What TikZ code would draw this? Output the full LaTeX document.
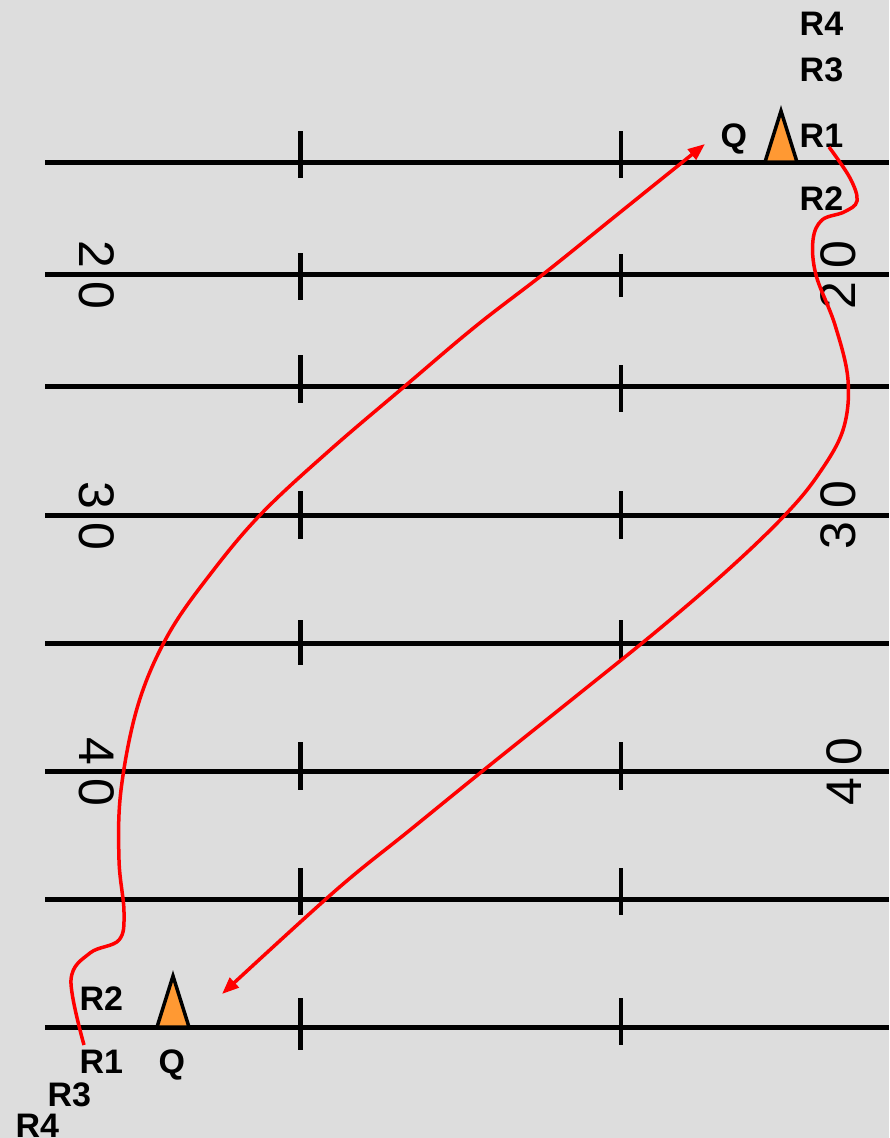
\documentclass[tikz,border=0pt]{standalone}
\usepackage{fontspec}
\setmainfont{Liberation Sans}
\usetikzlibrary{arrows.meta}
\definecolor{bg}{RGB}{221,221,221}
\definecolor{playerfill}{RGB}{255,153,51}
\definecolor{routered}{RGB}{255,0,0}
\newcommand\lblsize{\fontsize{34}{34}\selectfont\bfseries}
\newcommand\numsize{\fontsize{50}{50}\selectfont}
\tikzset{
  yardline/.style={line width=5pt},
  hashmark/.style={line width=4.5pt},
  lbl/.style={font=\lblsize, inner sep=0pt, anchor=base west},
  numl/.style={font=\numsize, inner sep=0pt, rotate=-90},
  numr/.style={font=\numsize, inner sep=0pt, rotate=90},
  player/.style={draw=black, fill=playerfill, line width=3.5pt, line join=miter},
  route/.style={draw=routered, line width=3.5pt},
  routearrow/.style={route, -{Triangle[length=17pt,width=13pt]}}
}
\begin{document}
\begin{tikzpicture}[x=1pt,y=-1pt]
\useasboundingbox (0,0) rectangle (889,1138);
\fill[bg] (0,0) rectangle (889,1138);
% yard lines
\foreach \yy in {162,274.7,386.7,515,643,771,899,1027}{
  \draw[yardline] (45,\yy) -- (889,\yy);
}
% hash marks
\foreach \yy/\ta/\tb/\ua/\ub in {162/131/178/131/178, 274.7/253/300/254/297, 386.7/355/403/365/412, 515/491/539/491/539, 643/620/665/620/660, 771/742/790/742/790, 899/868/915/868/915, 1027/998/1050/998/1045}{
  \draw[hashmark] (300.7,\ta) -- (300.7,\tb);
  \draw[hashmark] (621,\ua) -- (621,\ub);
}
% numbers left
\node[numl] (l2a) at (97,254.5) {2};
\node[numl] (l2b) at (97,295.5) {0};
\node[numl] (l3a) at (97,495) {3};
\node[numl] (l3b) at (97,536) {0};
\node[numl] (l4a) at (97,751) {4};
\node[numl] (l4b) at (97,792) {0};
% numbers right
\node[numr] (r2a) at (838,255) {0};
\node[numr] (r2b) at (838,296) {2};
\node[numr] (r3a) at (838,495) {0};
\node[numr] (r3b) at (838,536) {3};
\node[numr] (r4a) at (844,752) {0};
\node[numr] (r4b) at (844,792) {4};
% players
\draw[player] (765,162) -- (781,111) -- (797,162) -- cycle;
\draw[player] (157,1027) -- (173,976) -- (189,1027) -- cycle;
% labels top
\node[lbl] (tR4) at (799.5,35) {R4};
\node[lbl] (tR3) at (799.5,81) {R3};
\node[lbl] (tR1) at (799.5,147) {R1};
\node[lbl] (tQ) at (720.5,147) {Q};
\node[lbl] (tR2) at (799.5,210) {R2};
% labels bottom
\node[lbl] (bR2) at (79.5,1010) {R2};
\node[lbl] (bR1) at (79.5,1073) {R1};
\node[lbl] (bQ) at (158.5,1073) {Q};
\node[lbl] (bR3) at (47.5,1106) {R3};
\node[lbl] (bR4) at (15.5,1137) {R4};
% route endpoints
\coordinate (aS) at (84,1045);
\coordinate (aE) at (705,144);
\coordinate (bS) at (829,147);
\coordinate (bE) at (222,994);
\draw[routearrow] plot[smooth, tension=0.6] coordinates {(aS) (71,980) (90,953) (119,940) (124,912) (119,860) (121,790) (138,705) (168,635) (212,572) (262,513) (330,450) (405,386) (476,326) (546,272) (618,214) (aE)};
\draw[routearrow] plot[smooth, tension=0.6] coordinates {(bS) (850,178) (857,201) (844,212) (822,220) (813,240) (816,275) (835,325) (848,380) (843,430) (818,475) (785,515) (730,568) (658,630) (575,697) (490,765) (410,830) (335,891) (bE)};
\end{tikzpicture}
\end{document}
